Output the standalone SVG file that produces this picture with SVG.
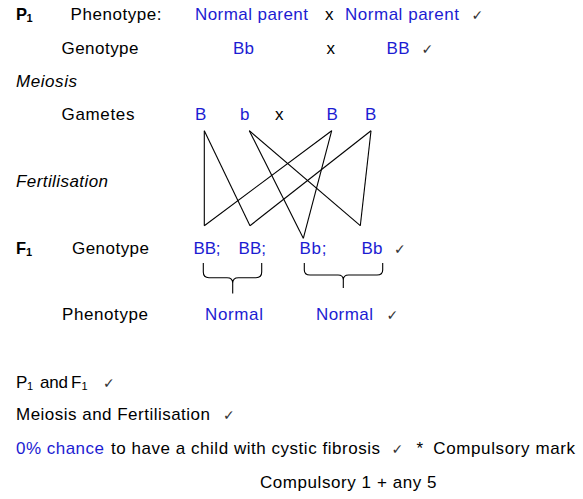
<svg xmlns="http://www.w3.org/2000/svg" width="583" height="499" viewBox="0 0 583 499">
<style>
text{font-family:"Liberation Sans",Arial,sans-serif;font-size:17px;fill:#000}
.bl{fill:#1c1cd2}
.it{font-style:italic}
.bd{font-weight:bold;font-size:16.5px}
.sub{font-size:11px}
.ck{font-family:"DejaVu Sans",sans-serif;font-size:14px;fill:#333}
.ln{stroke:#000;stroke-width:1.1;fill:none}
</style>
<rect width="583" height="499" fill="#fff"/>
<g id="p1-row">
<text class="bd" x="16" y="20">P</text><text class="sub" style="font-weight:bold" x="26.5" y="22">1</text>
<text x="70.5" y="20" textLength="91" lengthAdjust="spacing">Phenotype:</text>
<text class="bl" x="195" y="20" textLength="113" lengthAdjust="spacing">Normal parent</text>
<text x="325" y="20">x</text>
<text class="bl" x="345" y="20" textLength="114" lengthAdjust="spacing">Normal parent</text>
<text class="ck" x="471.5" y="20">✓</text>
</g>
<g id="p1-genotype">
<text x="61.5" y="53.5" textLength="77" lengthAdjust="spacing">Genotype</text>
<text class="bl" x="233" y="53.5" textLength="21" lengthAdjust="spacing">Bb</text>
<text x="326.5" y="53.5">x</text>
<text class="bl" x="386.5" y="53.5" textLength="23" lengthAdjust="spacing">BB</text>
<text class="ck" x="421.5" y="53.5">✓</text>
</g>
<g id="meiosis"><text class="it" x="16" y="86.5" textLength="61" lengthAdjust="spacing">Meiosis</text></g>
<g id="gametes">
<text x="61.5" y="120" textLength="73" lengthAdjust="spacing">Gametes</text>
<g id="gamete-B1"><text class="bl" x="195" y="120">B</text></g>
<g id="gamete-b"><text class="bl" x="240" y="120">b</text></g>
<text x="275" y="120">x</text>
<g id="gamete-B2"><text class="bl" x="326.5" y="120">B</text></g>
<g id="gamete-B3"><text class="bl" x="365" y="120">B</text></g>
</g>
<g id="fertilisation"><text class="it" x="16" y="186.5" textLength="92" lengthAdjust="spacing">Fertilisation</text></g>
<g id="connectors">
<line class="ln" x1="204.3" y1="130.7" x2="204.3" y2="225.7"/>
<line class="ln" x1="204.3" y1="225.7" x2="331.7" y2="130.7"/>
<line class="ln" x1="204.3" y1="130.7" x2="250" y2="225.7"/>
<line class="ln" x1="250" y1="225.7" x2="371" y2="130.7"/>
<line class="ln" x1="249.3" y1="130.7" x2="303.3" y2="238.3"/>
<line class="ln" x1="331.7" y1="130.7" x2="303.3" y2="238.3"/>
<line class="ln" x1="249.3" y1="130.7" x2="360.3" y2="225.7"/>
<line class="ln" x1="371" y1="130.7" x2="360.3" y2="225.7"/>
<path class="ln" d="M203.3,263 V272 Q203.3,277.7 209,277.7 H227 Q232.7,277.7 232.7,283 V293.5 M261.7,263 V272 Q261.7,277.7 256,277.7 H238.4 Q232.7,277.7 232.7,283"/>
<path class="ln" d="M304.3,263 V270 Q304.3,275 310,275 H338 Q343.3,275 343.3,280 V288 M382.7,263 V270 Q382.7,275 377,275 H348.6 Q343.3,275 343.3,280"/>
</g>
<g id="f1-row">
<text class="bd" x="16" y="253.5">F</text><text class="sub" style="font-weight:bold" x="26" y="255.5">1</text>
<text x="72" y="253.5" textLength="77" lengthAdjust="spacing">Genotype</text>
<g id="f1-BB-a"><text class="bl" x="193.5" y="253.5" textLength="27" lengthAdjust="spacing">BB;</text></g>
<g id="f1-BB-b"><text class="bl" x="238.5" y="253.5" textLength="27.5" lengthAdjust="spacing">BB;</text></g>
<g id="f1-Bb-a"><text class="bl" x="299.5" y="253.5" textLength="27" lengthAdjust="spacing">Bb;</text></g>
<g id="f1-Bb-b"><text class="bl" x="361.5" y="253.5" textLength="21" lengthAdjust="spacing">Bb</text></g>
<text class="ck" x="394" y="253.5">✓</text>
</g>
<g id="f1-phenotype">
<text x="62" y="320" textLength="86" lengthAdjust="spacing">Phenotype</text>
<text class="bl" x="205" y="320" textLength="58" lengthAdjust="spacing">Normal</text>
<text class="bl" x="316" y="320" textLength="57" lengthAdjust="spacing">Normal</text>
<text class="ck" x="386.5" y="320">✓</text>
</g>
<g id="marks">
<text x="16" y="387.5">P</text><text class="sub" x="27" y="390">1</text>
<text x="40" y="387.5" textLength="28" lengthAdjust="spacing">and</text>
<text x="71" y="387.5">F</text><text class="sub" x="81.5" y="390">1</text>
<text class="ck" x="103" y="387.5">✓</text>
<text x="16" y="420" textLength="194" lengthAdjust="spacing">Meiosis and Fertilisation</text>
<text class="ck" x="223" y="420">✓</text>
<text class="bl" x="16" y="454.3" textLength="88" lengthAdjust="spacing">0% chance</text>
<text x="111" y="454.3" textLength="269" lengthAdjust="spacing">to have a child with cystic fibrosis</text>
<text class="ck" x="391.5" y="454.3">✓</text>
<text x="416.5" y="454.3">*</text>
<text x="433.3" y="454.3" textLength="141.7" lengthAdjust="spacing">Compulsory mark</text>
<text x="260" y="487.5" textLength="176.5" lengthAdjust="spacing">Compulsory 1 + any 5</text>
</g>
</svg>
